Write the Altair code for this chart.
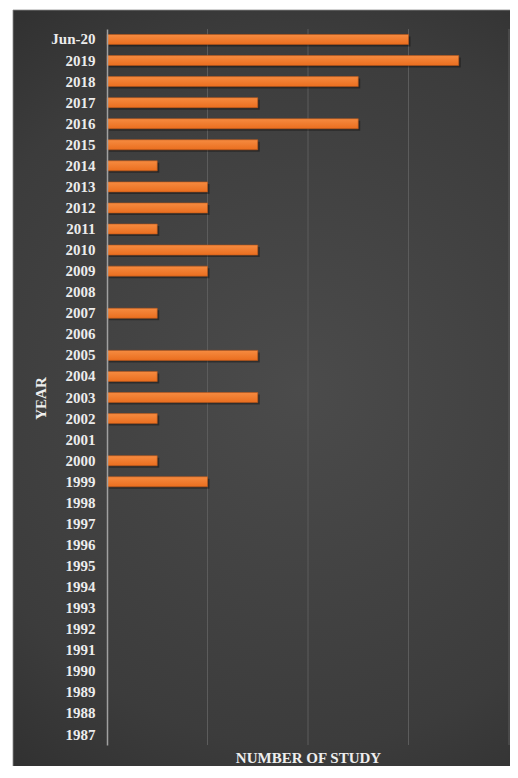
import altair as alt
import pandas as pd

years = ["Jun-20", "2019", "2018", "2017", "2016", "2015", "2014", "2013", "2012",
         "2011", "2010", "2009", "2008", "2007", "2006", "2005", "2004", "2003",
         "2002", "2001", "2000", "1999", "1998", "1997", "1996", "1995", "1994",
         "1993", "1992", "1991", "1990", "1989", "1988", "1987"]
counts = [6, 7, 5, 3, 5, 3, 1, 2, 2, 1, 3, 2, 0, 1, 0, 3, 1, 3, 1, 0, 1, 2,
          0, 0, 0, 0, 0, 0, 0, 0, 0, 0, 0, 0]
grid_values = [2, 4, 6, 8]

df = pd.DataFrame({"year": years, "count": counts})
gdf = pd.DataFrame({"g": grid_values})

W, H = 402, 716
PL, PT, PR, PB = 99, 21, 1, 21
FONT = "Liberation Serif"

xscale = alt.Scale(domain=[0, 8], nice=False, zero=True)
yscale = alt.Scale(domain=years, paddingInner=0.525, paddingOuter=0.26)

xaxis = alt.Axis(title="NUMBER OF STUDY", grid=False, labels=False, ticks=False,
                 domain=False, titleFont=FONT, titleFontSize=15,
                 titleFontWeight="bold", titleColor="#eeeeee",
                 titlePadding=5, zindex=1)
yaxis = alt.Axis(title="YEAR", ticks=False, grid=False, domainColor="#a0a0a0",
                 domainWidth=1.5, labelFont=FONT, labelFontSize=15,
                 labelFontWeight="bold", labelColor="#ececec", labelPadding=12,
                 titleFont=FONT, titleFontSize=15, titleFontWeight="bold",
                 titleColor="#eeeeee", titleAngle=270, titleAlign="center",
                 titleBaseline="middle", titleX=-67, titleY=369, zindex=1)

X = alt.X("count:Q", scale=xscale, axis=xaxis, title="NUMBER OF STUDY")
Y = alt.Y("year:N", sort=years, scale=yscale, axis=yaxis, title="YEAR")

bg = alt.Chart(pd.DataFrame({"a": [0]})).mark_rect(
    fill={"gradient": "radial",
          "x1": 0.55, "y1": 0.5, "r1": 0,
          "x2": 0.55, "y2": 0.5, "r2": 0.78,
          "stops": [{"offset": 0, "color": "#4b4b4b"},
                    {"offset": 0.6, "color": "#3c3c3c"},
                    {"offset": 1, "color": "#262626"}]},
    stroke="#8a8a8a", strokeWidth=0.8
).encode(
    x=alt.value(-PL + 5), x2=alt.value(W + PR + 2),
    y=alt.value(-PT + 2), y2=alt.value(H + PB + 2),
)

grid = alt.Chart(gdf).mark_rule(color="#5c5c5c", strokeWidth=1).encode(
    x=alt.X("g:Q", scale=xscale, axis=xaxis, title="NUMBER OF STUDY")
)

base = alt.Chart(df).transform_filter(alt.datum.count > 0)

shadow = base.mark_bar(color="#000000", opacity=0.35, xOffset=2, yOffset=2).encode(
    x=X, y=Y
)

bars = base.mark_bar(
    fill={"gradient": "linear", "x1": 0, "y1": 0, "x2": 0, "y2": 1,
          "stops": [{"offset": 0, "color": "#f68b40"},
                    {"offset": 1, "color": "#ea6e1f"}]},
    stroke="#b9561a", strokeWidth=0.6,
).encode(x=X, y=Y)

chart = alt.layer(bg, grid, shadow, bars).properties(
    width=W, height=H,
    autosize=alt.AutoSizeParams(type="none"),
    padding={"left": PL, "top": PT, "right": PR, "bottom": PB},
    background="#ffffff",
).configure_view(stroke=None)

chart.save("out.html", embed_options={"renderer": "svg", "actions": False})
